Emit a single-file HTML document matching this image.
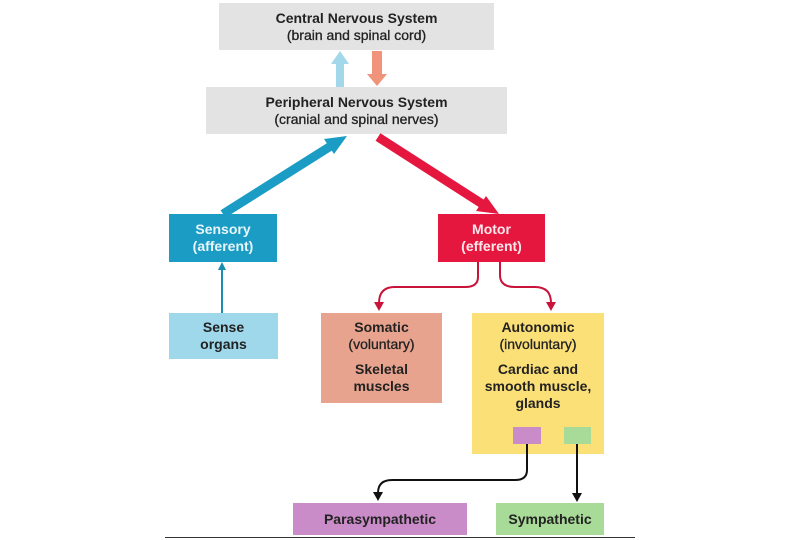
<!DOCTYPE html>
<html><head><style>
body{margin:0;width:810px;height:540px;background:#fff;position:relative;overflow:hidden;font-family:"Liberation Sans",Arial,sans-serif;font-weight:bold;}
.b{position:absolute;box-sizing:border-box;text-align:center;font-size:14px;line-height:17px;color:#222;}
</style></head><body>
<div class="b" style="left:219px;top:3px;width:275px;height:47px;background:#e3e3e3;padding-top:7px">Central Nervous System<br><span style="font-weight:normal;-webkit-text-stroke:0.3px #222">(brain and spinal cord)</span></div>
<div class="b" style="left:206px;top:87px;width:301px;height:47px;background:#e3e3e3;padding-top:7px">Peripheral Nervous System<br><span style="font-weight:normal;-webkit-text-stroke:0.3px #222">(cranial and spinal nerves)</span></div>
<div class="b" style="left:169px;top:214px;width:108px;height:48px;background:#1a9cc4;color:#e8f6fb;padding-top:7px">Sensory<br>(afferent)</div>
<div class="b" style="left:438px;top:214px;width:107px;height:48px;background:#e5173f;color:#fde8ec;padding-top:7px">Motor<br>(efferent)</div>
<div class="b" style="left:169px;top:313px;width:109px;height:46px;background:#9fd8ea;padding-top:6px">Sense<br>organs</div>
<div class="b" style="left:321px;top:313px;width:121px;height:90px;background:#e8a38e;padding-top:6px">Somatic<br><span style="font-weight:normal;-webkit-text-stroke:0.3px #222">(voluntary)</span><br><div style="height:8px"></div>Skeletal<br>muscles</div>
<div class="b" style="left:472px;top:313px;width:132px;height:141px;background:#fbdf77;padding-top:6px">Autonomic<br><span style="font-weight:normal;-webkit-text-stroke:0.3px #222">(involuntary)</span><br><div style="height:8px"></div>Cardiac and<br>smooth muscle,<br>glands</div>
<div style="position:absolute;left:513px;top:427px;width:28px;height:17px;background:#c98cc8"></div>
<div style="position:absolute;left:564px;top:427px;width:27px;height:17px;background:#a8db98"></div>
<div class="b" style="left:293px;top:503px;width:174px;height:32px;background:#c98cc8;padding-top:8px">Parasympathetic</div>
<div class="b" style="left:496px;top:503px;width:108px;height:32px;background:#a8db98;padding-top:8px">Sympathetic</div>
<div style="position:absolute;left:165px;top:537px;width:470px;height:1px;background:#333"></div>
<svg width="810" height="540" style="position:absolute;left:0;top:0">
<polygon points="336,87 336,64 331,64 340,51 349,64 344,64 344,87" fill="#a2d8ea"/>
<polygon points="372,51 382,51 382,74 387,74 377,86 367,74 372,74" fill="#f0937a"/>
<line x1="223" y1="214" x2="334" y2="144" stroke="#1a9cc4" stroke-width="9"/>
<polygon points="347,136 324,139 334,154" fill="#1a9cc4"/>
<line x1="378" y1="137" x2="487" y2="207" stroke="#e5173f" stroke-width="9"/>
<polygon points="499,214 476,211 486,196" fill="#e5173f"/>
<line x1="222" y1="313" x2="222" y2="268" stroke="#1a8db0" stroke-width="2"/>
<polygon points="222,262 218,270 226,270" fill="#1a8db0"/>
<path d="M478,262 V277 Q478,287 465,287 H395 Q379,287 379,303" fill="none" stroke="#c8143a" stroke-width="2"/>
<polygon points="379,311 374,302 384,302" fill="#c8143a"/>
<path d="M500,262 V275 Q500,287 515,287 H535 Q551,287 551,303" fill="none" stroke="#c8143a" stroke-width="2"/>
<polygon points="551,311 546,302 556,302" fill="#c8143a"/>
<path d="M527,444 V470 Q527,480 515,480 H392 Q378,480 378,493" fill="none" stroke="#111" stroke-width="2"/>
<polygon points="378,501 373,492 383,492" fill="#111"/>
<line x1="577" y1="444" x2="577" y2="494" stroke="#111" stroke-width="2"/>
<polygon points="577,502 572,493 582,493" fill="#111"/>
</svg>
</body></html>
